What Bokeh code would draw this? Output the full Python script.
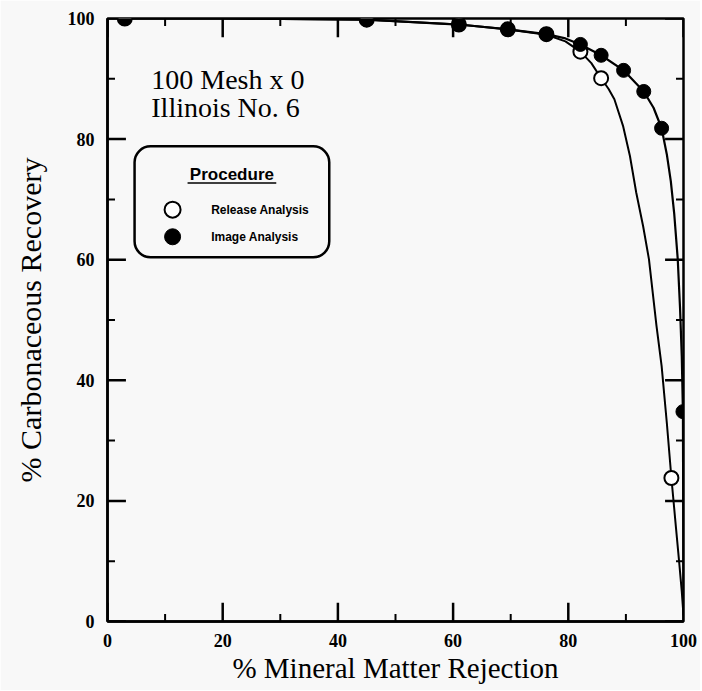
from bokeh.plotting import figure
from bokeh.models import Range1d, FixedTicker, BoxAnnotation
from bokeh.core.properties import value
from bokeh.embed import file_html
from bokeh.resources import INLINE

# ---- data ----
release_x = [3, 45, 61, 69.5, 76.2, 82.1, 85.7, 97.9]
release_y = [100, 99.8, 99.0, 98.2, 97.4, 94.5, 90.1, 23.8]
image_x = [3, 45, 61, 69.5, 76.2, 82.1, 85.7, 89.6, 93.1, 96.2, 99.9]
image_y = [100, 99.8, 99.0, 98.2, 97.4, 95.7, 93.9, 91.4, 87.9, 81.8, 34.8]

# fitted curves (traced)
release_curve_x = [3, 20, 45, 61, 69.5, 76.2, 79.5, 82.1, 84.0, 85.7, 87.0, 88.0, 89.5, 90.7,
                   91.8, 93.0, 94.0, 95.3, 96.2, 97.1, 97.9, 98.7, 99.3, 99.7, 100]
release_curve_y = [100, 100, 99.8, 99.0, 98.2, 97.3, 96.2, 94.5, 92.6, 90.1, 88.3, 86.6, 82.2, 77.2,
                   71.1, 65.5, 60.1, 49.1, 42.4, 33.0, 23.8, 15.5, 9.3, 5, 1]
image_curve_x = [3, 20, 45, 61, 69.5, 76.2, 79.5, 82.1, 85.7, 89.6, 93.1, 94.8, 96.2, 97.1, 97.8,
                 98.4, 99.0, 99.4, 99.7, 99.9, 100]
image_curve_y = [100, 100, 99.8, 99.0, 98.2, 97.4, 96.7, 95.7, 93.9, 91.4, 87.9, 85.2, 81.8, 77.5, 73.0,
                 67.5, 60.1, 52.0, 44.0, 34.8, 2]

major_ticks = [0, 20, 40, 60, 80, 100]
minor_ticks = [10, 30, 50, 70, 90]

x_label = "% Mineral Matter Rejection"
y_label = "% Carbonaceous Recovery"
note_lines = ["100 Mesh x 0", "Illinois No. 6"]
legend_title = "Procedure"
legend_names = ["Release Analysis", "Image Analysis"]

BG = "#f8f8f8"
SERIF = "Liberation Serif"
SANS = "Liberation Sans"

p = figure(width=700, height=690, x_range=Range1d(0, 100), y_range=Range1d(0, 100),
           output_backend="svg", toolbar_location=None,
           min_border_left=107, min_border_right=17, min_border_top=18, min_border_bottom=69,
           background_fill_color=BG, border_fill_color=BG)
p.grid.visible = False
p.outline_line_color = "black"
p.outline_line_width = 2.5

ticker = FixedTicker(ticks=major_ticks, minor_ticks=minor_ticks)

for ax in (p.xaxis[0], p.yaxis[0]):
    ax.ticker = ticker
    ax.axis_line_width = 2.5
    ax.axis_line_color = "black"
    ax.major_tick_in = 0
    ax.major_tick_out = 0
    ax.minor_tick_in = 0
    ax.minor_tick_out = 0
    ax.major_label_text_font = SERIF
    ax.major_label_text_font_style = "bold"
    ax.major_label_text_font_size = "18px"
    ax.major_label_text_color = "black"
    ax.axis_label_text_font = SERIF
    ax.axis_label_text_font_style = "normal"
    ax.axis_label_text_color = "black"

p.xaxis[0].major_label_standoff = 12
p.yaxis[0].major_label_standoff = 13
p.xaxis[0].axis_label = x_label
p.yaxis[0].axis_label = y_label
p.xaxis[0].axis_label_text_font_size = "29px"
p.yaxis[0].axis_label_text_font_size = "30px"
p.xaxis[0].axis_label_standoff = 2
p.yaxis[0].axis_label_standoff = 18

# inward ticks on all four sides, built from the tick lists
MAJ_X, MIN_X = 3.2, 1.3   # x extent for left/right ticks (about 18px / 7px)
MAJ_Y, MIN_Y = 3.1, 1.25  # y extent for bottom/top ticks
tick_xs, tick_ys, tick_w = [], [], []
for t in major_ticks:
    tick_xs += [[t, t], [t, t], [0, MAJ_X], [100, 100 - MAJ_X]]
    tick_ys += [[0, MAJ_Y], [100, 100 - MAJ_Y], [t, t], [t, t]]
    tick_w += [2.5] * 4
for t in minor_ticks:
    tick_xs += [[t, t], [t, t], [0, MIN_X], [100, 100 - MIN_X]]
    tick_ys += [[0, MIN_Y], [100, 100 - MIN_Y], [t, t], [t, t]]
    tick_w += [2.0] * 4
p.multi_line(xs=tick_xs, ys=tick_ys, line_color="black", line_width=tick_w)

# curves
p.line(release_curve_x, release_curve_y, line_color="black", line_width=2)
p.line(image_curve_x, image_curve_y, line_color="black", line_width=2.2)

# points
p.scatter(release_x, release_y, size=14, marker="circle", fill_color="white",
          line_color="black", line_width=2)
p.scatter(image_x, image_y, size=14, marker="circle", fill_color="black",
          line_color="black")

# annotation text
p.text(x=[7.6, 7.6], y=[89.9, 85.2], text=note_lines, text_font=value(SERIF),
       text_font_size="28px", text_color="black", text_baseline="alphabetic", text_align="left")

# legend box
box = BoxAnnotation(left=4.7, right=38.5, top=78.8, bottom=60.4, fill_alpha=0,
                    line_color="black", line_alpha=1.0, line_width=2.5, border_radius=16)
p.add_layout(box)
p.text(x=[21.6], y=[74.1], text=[legend_title], text_font=value(SANS), text_font_style="bold",
       text_font_size="17px", text_color="black", text_align="center", text_baseline="middle")
p.line([13.9, 29.3], [72.7, 72.7], line_color="black", line_width=1.5)
p.scatter([11.3], [68.3], size=16, marker="circle", fill_color="white",
          line_color="black", line_width=2)
p.scatter([11.3], [63.8], size=16, marker="circle", fill_color="black", line_color="black")
p.text(x=[18.0, 18.0], y=[68.3, 63.8], text=legend_names, text_font=value(SANS),
       text_font_style="bold", text_font_size="12px", text_color="black",
       text_align="left", text_baseline="middle")

open("out.html", "w").write(file_html(p, INLINE))
